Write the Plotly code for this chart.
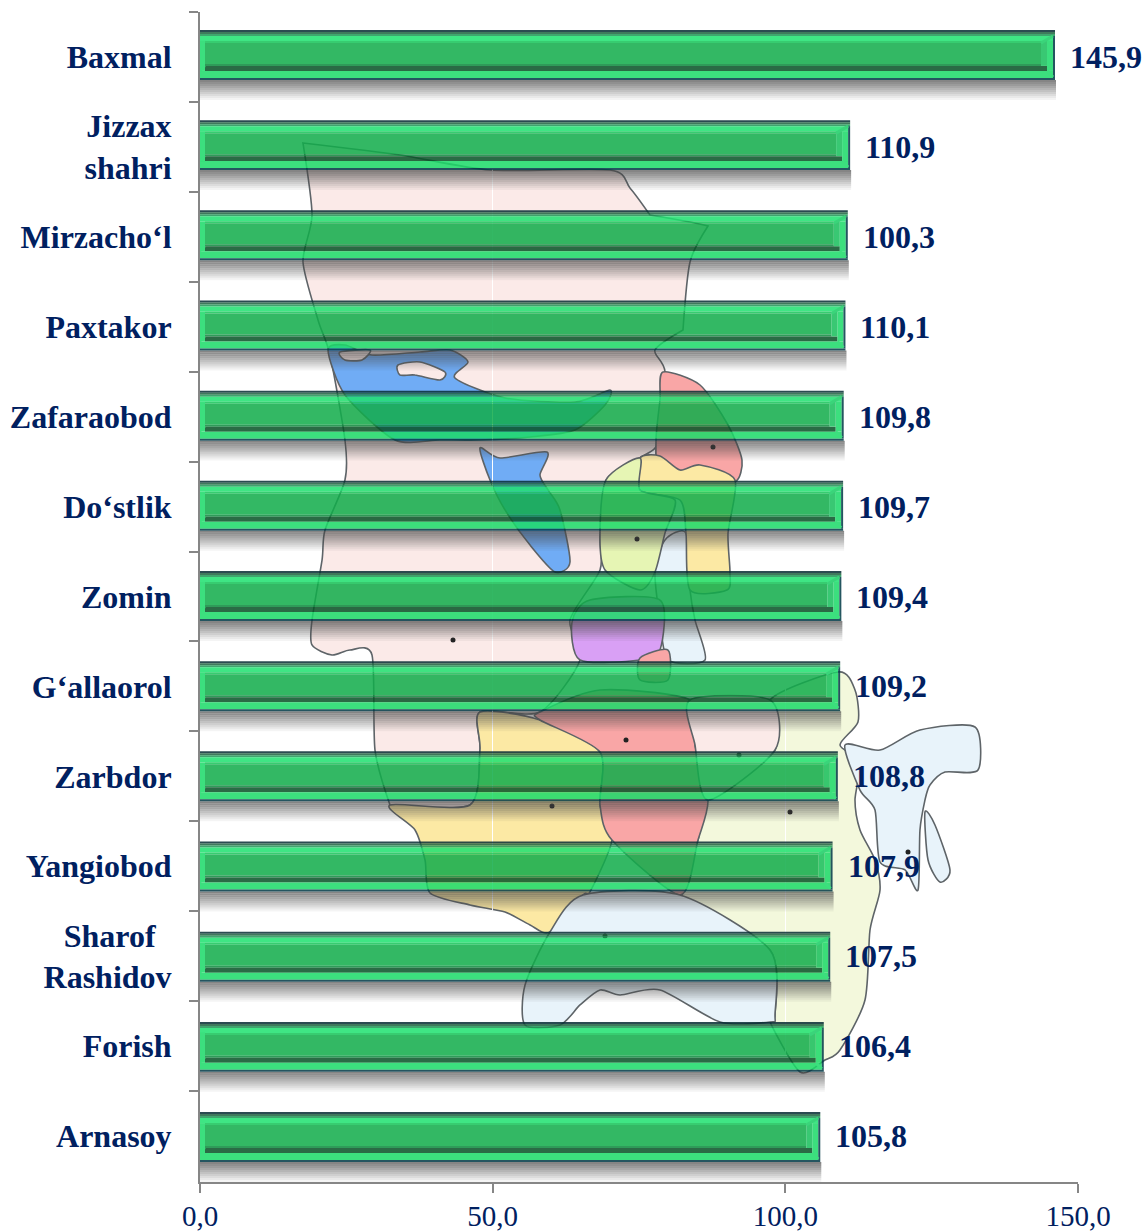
import plotly.graph_objects as go

# ---------- data ----------
categories = ["Baxmal", "Jizzax<br>shahri", "Mirzacho‘l", "Paxtakor", "Zafaraobod", "Do‘stlik", "Zomin",
              "G‘allaorol", "Zarbdor", "Yangiobod", "Sharof\u00a0\u00a0<br>Rashidov", "Forish", "Arnasoy"]
bar_values = [145.9, 110.9, 110.5, 110.1, 109.8, 109.7, 109.4, 109.2, 108.8, 107.9, 107.5, 106.4, 105.8]
value_labels = ["145,9", "110,9", "100,3", "110,1", "109,8", "109,7", "109,4", "109,2", "108,8", "107,9", "107,5", "106,4", "105,8"]
x_tick_values = [0, 50, 100, 150]
x_tick_labels = ["0,0", "50,0", "100,0", "150,0"]

# ---------- background map outlines (page pixels); a repeated point makes a sharp corner ----------
map_main = [(303,143),(303,143),(400,155),(490,170),(610,170),(630,188),(650,215),(650,215),(690,222),(708,226),(708,226),(690,262),(683,330),(683,330),(655,350),(665,372),
            (660,440),(640,458),(606,480),(600,535),(600,570),(570,620),(580,660),(540,712),(480,712),(480,750),(470,805),(390,805),(390,805),
            (375,750),(372,655),(350,650),(332,655),(312,645),(312,620),(322,560),(325,530),(345,480),(345,440),(330,355),(318,320),(303,262),(312,215)]
map_lake_a = [(328,350),(345,345),(372,355),(420,352),(450,350),(468,362),(455,378),(505,398),(575,402),(610,390),(605,405),(575,430),(530,437),(480,440),(440,440),(395,440),(345,395)]
map_lake_b = [(480,448),(500,458),(547,452),(540,475),(548,490),(560,510),(570,562),(555,572),(530,545),(505,510),(490,480)]
map_isle_a = [(398,365),(420,362),(445,372),(440,380),(415,375),(400,375)]
map_isle_b = [(340,352),(370,350),(362,360),(345,360)]
map_red_n = [(663,372),(700,385),(728,425),(742,460),(735,482),(700,480),(660,472),(656,440),(660,400)]
map_yellow_n = [(640,458),(660,456),(680,470),(700,465),(735,480),(728,533),(730,572),(727,590),(690,590),(686,533),(680,500),(640,490)]
map_green_n = [(606,480),(640,458),(640,490),(675,500),(665,533),(655,572),(640,590),(605,570),(600,535)]
map_sky_n = [(665,540),(686,533),(690,590),(695,620),(705,660),(668,660),(660,620),(655,572)]
map_purple = [(572,622),(590,600),(660,600),(660,650),(640,660),(580,660)]
map_red_patch = [(640,658),(668,650),(668,680),(640,680)]
map_red_c = [(540,712),(600,690),(690,700),(695,745),(708,800),(698,840),(680,895),(612,840),(600,805),(600,752),(540,720)]
map_pink_c = [(690,700),(770,700),(775,750),(708,800),(695,745)]
map_yellow_s = [(480,712),(540,720),(600,752),(600,805),(612,840),(590,892),(583,895),(550,932),(530,925),(505,912),(470,905),(430,893),(425,860),(415,830),(390,805),(470,805),(480,750)]
map_sky_s = [(583,895),(680,895),(770,950),(775,1015),(770,1022),(720,1022),(660,990),(620,995),(600,990),(580,1005),(560,1025),(525,1025),(525,985),(550,932)]
map_pale_e = [(770,700),(838,672),(855,690),(858,722),(840,745),(860,762),(855,800),(860,830),(875,860),(880,890),(870,930),(865,1000),(840,1050),(825,1060),(800,1072),(770,1022),(775,1015),(770,950),(680,895),(698,840),(708,800),(775,750)]
map_sky_ne = [(845,745),(880,750),(920,730),(975,727),(978,770),(945,772),(930,785),(925,800),(920,830),(918,890),(905,870),(880,862),(875,810),(860,790)]
map_ring = [(925,812),(935,825),(950,870),(940,882),(928,860)]
map_dots = [(453,640),(713,447),(637,539),(626,740),(552,806),(790,812),(739,755),(605,936),(908,852)]

map_regions = [(map_main,"#FBEAE8"),(map_pale_e,"#F3F8DC"),(map_yellow_s,"#FCE9A4"),(map_red_c,"#F9A6A6"),(map_pink_c,"#FBEAE8"),
               (map_sky_s,"#E8F3FA"),(map_sky_ne,"#E8F3FA"),(map_ring,"#E8F3FA"),(map_red_n,"#F9A6A6"),(map_sky_n,"#E8F3FA"),
               (map_yellow_n,"#FCE9A4"),(map_green_n,"#E6F5B4"),(map_purple,"#D9A0F5"),(map_red_patch,"#F9A6A6"),
               (map_lake_a,"#70ACF5"),(map_lake_b,"#70ACF5"),(map_isle_a,"#FBEAE8"),(map_isle_b,"#FBEAE8")]

# ---------- layout geometry ----------
PLOT_L, PLOT_R, PLOT_T, PLOT_B = 200, 1078, 12, 1182
PX_X = (PLOT_R - PLOT_L) / 150
BAND = (PLOT_B - PLOT_T) / 13
ALPHA = 0.86
NAVY = "#002060"
# bars sit a little above the band centre at the top and drift to just below it at the bottom
center_shift = [-2 + 3 * i / 12 for i in range(len(bar_values))]

def fx(p): return (p - PLOT_L) / (PLOT_R - PLOT_L)
def fy(p): return (PLOT_B - p) / (PLOT_B - PLOT_T)

def through(hex_color, a=ALPHA):
    rgb = [int(hex_color[i:i+2], 16) for i in (1, 3, 5)]
    c = [max(0, round((v - 255 * (1 - a)) / a)) for v in rgb]
    return f"rgba({c[0]},{c[1]},{c[2]},{a})"

def smooth_path(pts):
    """Closed Catmull-Rom outline as cubic Bezier path in paper fractions; repeated points stay sharp."""
    n = len(pts)
    P = [(fx(x), fy(y)) for x, y in pts]
    parts = [f"M {P[0][0]:.4f},{P[0][1]:.4f}"]
    for i in range(n):
        p0, p1, p2, p3 = P[i - 1], P[i], P[(i + 1) % n], P[(i + 2) % n]
        if p1 == p2:
            continue
        c1 = p1 if p0 == p1 else (p1[0] + (p2[0] - p0[0]) / 8, p1[1] + (p2[1] - p0[1]) / 8)
        c2 = p2 if p2 == p3 else (p2[0] - (p3[0] - p1[0]) / 8, p2[1] - (p3[1] - p1[1]) / 8)
        parts.append(f"C {c1[0]:.4f},{c1[1]:.4f} {c2[0]:.4f},{c2[1]:.4f} {p2[0]:.4f},{p2[1]:.4f}")
    return " ".join(parts) + " Z"

shapes = []
for pts, col in map_regions:
    shapes.append(dict(type="path", path=smooth_path(pts), xref="paper", yref="paper", layer="below",
                       fillcolor=col, line=dict(color="#5E6468", width=1.6)))
for x, y in map_dots:
    shapes.append(dict(type="circle", xref="paper", yref="paper", layer="below", fillcolor="#222222", line=dict(width=0),
                       x0=fx(x-2.5), x1=fx(x+2.5), y0=fy(y+2.5), y1=fy(y-2.5)))

fig = go.Figure()

def strip(top, bottom, color, inset_l=0, inset_r=0, right_only=None):
    """Horizontal slice of every bar; top/bottom are px relative to the bar reference line."""
    if right_only is not None:
        bases = [v - (inset_r + right_only) / PX_X for v in bar_values]
        xs = [right_only / PX_X for _ in bar_values]
    else:
        bases = [inset_l / PX_X for _ in bar_values]
        xs = [v - (inset_l + inset_r) / PX_X for v in bar_values]
    fig.add_trace(go.Bar(y=categories, x=xs, base=bases, orientation="h",
                         offset=[(top + s) / BAND for s in center_shift], width=(bottom - top) / BAND,
                         marker=dict(color=color, line=dict(width=0)),
                         hoverinfo="skip", showlegend=False))

# soft shadow below the bars
shadow_alpha = [.66, .60, .54, .47, .40, .33, .26, .19, .12, .06]
for k, sa in enumerate(shadow_alpha):
    strip(25 + 2 * k, 27 + 2 * k, f"rgba(70,70,70,{sa})", inset_r=-2)

# bevel slices (bar runs from -25 to +25 about its centre)
strip(-25, -23, through("#2B4A50"), inset_r=-1)
strip(-23, -21, through("#3F7A5C"), inset_r=-1)
strip(-21, -19, through("#3FA56E"), inset_r=-1)
strip(-19, -14, through("#3FE584"), inset_r=1)
strip(-14, -12, through("#37CC70"), inset_l=5, inset_r=13)
strip(-12, 9, through("#33B864"), inset_l=5, inset_r=13)
strip(9, 11, through("#2F9A59"), inset_l=5, inset_r=13)
strip(11, 16, through("#2A6B45"), inset_l=5, inset_r=7)
strip(16, 23, through("#3CE07E"), inset_r=1)
strip(23, 25, through("#1F5560"), inset_r=-1)
# end caps
strip(-14, 16, through("#3CDF7E"), inset_r=1, right_only=6)
strip(-14, 11, through("#38C873"), inset_r=7, right_only=6)
strip(-19, 23, through("#1F5560"), inset_r=-1, right_only=2)
fig.add_trace(go.Bar(y=categories, x=[5 / PX_X for _ in bar_values], base=[0 for _ in bar_values], orientation="h",
                     offset=[(-14 + s) / BAND for s in center_shift], width=30 / BAND,
                     marker=dict(color=through("#3CDF7E"), line=dict(width=0)),
                     hoverinfo="skip", showlegend=False))

# bevel mitres
for i, v in enumerate(bar_values):
    s = center_shift[i]
    shapes.append(dict(type="line", xref="x", yref="y", layer="above", x0=v - 1 / PX_X, x1=v - 13 / PX_X,
                       y0=i + (-19 + s) / BAND, y1=i + (-12 + s) / BAND, line=dict(color="#3AD47A", width=3)))
    shapes.append(dict(type="line", xref="x", yref="y", layer="above", x0=v - 1 / PX_X, x1=v - 7 / PX_X,
                       y0=i + (22 + s) / BAND, y1=i + (16 + s) / BAND, line=dict(color="#3CDF7E", width=3)))
    shapes.append(dict(type="line", xref="x", yref="y", layer="above", x0=0, x1=5 / PX_X,
                       y0=i + (16 + s) / BAND, y1=i + (11 + s) / BAND, line=dict(color="#3CDF7E", width=2)))

annotations = [dict(x=v, y=c, xref="x", yref="y", text=f"<b>{t}</b>", showarrow=False, xanchor="left", yanchor="middle",
                    xshift=14, font=dict(family="Liberation Serif", size=32, color=NAVY))
               for c, v, t in zip(categories, bar_values, value_labels)]

fig.update_layout(
    width=1146, height=1232, barmode="overlay", showlegend=False,
    margin=dict(l=PLOT_L, r=1146 - PLOT_R, t=PLOT_T, b=1232 - PLOT_B, pad=0, autoexpand=False),
    paper_bgcolor="white", plot_bgcolor="rgba(0,0,0,0)",
    shapes=shapes, annotations=annotations,
    xaxis=dict(range=[0, 150], tickvals=x_tick_values, ticktext=x_tick_labels, showgrid=True, gridcolor="white", gridwidth=1,
               automargin=False, zeroline=False, showline=True, linecolor="#868686", linewidth=2, ticks="outside", ticklen=9, tickcolor="#868686",
               tickwidth=2, ticklabelstandoff=-2, tickfont=dict(family="Liberation Serif", size=29, color=NAVY)),
    yaxis=dict(type="category", categoryorder="array", categoryarray=categories, autorange="reversed", tickson="boundaries",
               automargin=False, showgrid=False, zeroline=False, showline=True, linecolor="#868686", linewidth=2, ticks="outside", ticklen=9,
               tickcolor="#868686", tickwidth=2, ticklabelstandoff=20,
               tickfont=dict(family="Liberation Serif", size=32, color=NAVY, weight="bold")),
)
fig.write_html("out.html", post_script="document.body.style.margin='0';", config=dict(displayModeBar=False))
